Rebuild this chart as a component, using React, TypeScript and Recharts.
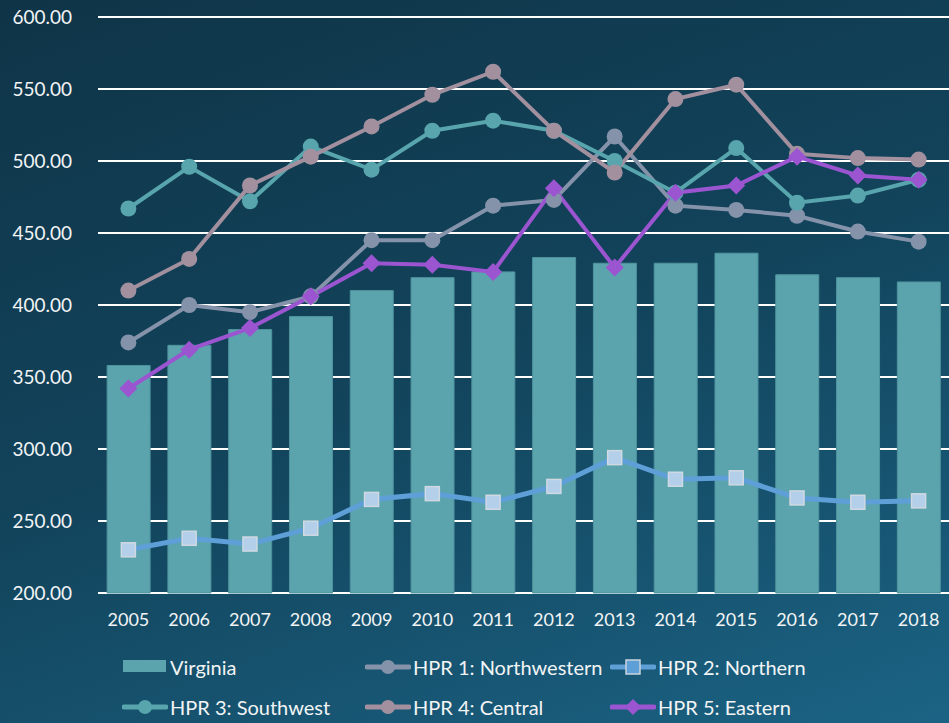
import { ComposedChart, Bar, Line, XAxis, YAxis, CartesianGrid } from "recharts";

const years = ["2005", "2006", "2007", "2008", "2009", "2010", "2011", "2012", "2013", "2014", "2015", "2016", "2017", "2018"];
const virginia = [358, 372, 383, 392, 410, 419, 423, 433, 429, 429, 436, 421, 419, 416];
const hpr1 = [374, 400, 395, 406, 445, 445, 469, 473, 517, 469, 466, 462, 451, 444];
const hpr2 = [230, 238, 234, 245, 265, 269, 263, 274, 294, 279, 280, 266, 263, 264];
const hpr3 = [467, 496, 472, 510, 494, 521, 528, 521, 500, 478, 509, 471, 476, 487];
const hpr4 = [410, 432, 483, 503, 524, 546, 562, 521, 492, 543, 553, 505, 502, 501];
const hpr5 = [342, 369, 384, 406, 429, 428, 423, 481, 426, 478, 483, 503, 490, 487];
const yTicks = [200, 250, 300, 350, 400, 450, 500, 550, 600];

const data = years.map((year, i) => ({
  year,
  virginia: virginia[i],
  hpr1: hpr1[i],
  hpr2: hpr2[i],
  hpr3: hpr3[i],
  hpr4: hpr4[i],
  hpr5: hpr5[i],
}));

const FONT = "Lato, 'Open Sans', sans-serif";
const TEXT = "#f2f4f5";

const C_BAR = "#5ba4ae";
const C1 = "#8593aa";
const C2 = "#5f9fd8";
const C3 = "#58a5ad";
const C4 = "#a2909f";
const C5 = "#9b55d0";

const Diamond = (props: any) => {
  const { cx, cy } = props;
  if (cx == null || cy == null) return null;
  const s = 9;
  return <path d={`M${cx},${cy - s}L${cx + s},${cy}L${cx},${cy + s}L${cx - s},${cy}Z`} fill={C5} />;
};

const Square = (props: any) => {
  const { cx, cy } = props;
  if (cx == null || cy == null) return null;
  return <rect x={cx - 7} y={cy - 7} width={14} height={14} fill="#b3cfea" stroke="#d0d9e2" strokeWidth={1.5} />;
};

const legendItems = [
  { label: "Virginia", kind: "bar", color: C_BAR },
  { label: "HPR 1: Northwestern", kind: "circle", color: C1 },
  { label: "HPR 2: Northern", kind: "square", color: C2 },
  { label: "HPR 3: Southwest", kind: "circle", color: C3 },
  { label: "HPR 4: Central", kind: "circle", color: C4 },
  { label: "HPR 5: Eastern", kind: "diamond", color: C5 },
];

function LegendIcon({ kind, color }: { kind: string; color: string }) {
  return (
    <svg width={46} height={20} style={{ marginRight: 2 }}>
      {kind === "bar" ? (
        <rect x={1} y={3} width={43} height={12} fill={color} />
      ) : (
        <>
          <line x1={2} y1={10} x2={44} y2={10} stroke={color} strokeWidth={5} strokeLinecap="round" />
          {kind === "circle" && <circle cx={23} cy={10} r={7} fill={color} />}
          {kind === "square" && <rect x={16} y={3} width={14} height={14} fill={C2} stroke="#c9d3dc" strokeWidth={1.5} />}
          {kind === "diamond" && <path d="M23,2L31,10L23,18L15,10Z" fill={color} />}
        </>
      )}
    </svg>
  );
}

export default function App() {
  return (
    <div
      style={{
        position: "absolute",
        left: 0,
        top: 0,
        width: 949,
        height: 723,
        overflow: "hidden",
        background: "linear-gradient(160deg, #0f3447 0%, #12445c 50%, #1b6384 100%)",
        fontFamily: FONT,
      }}
    >
      <ComposedChart width={949} height={723} data={data} margin={{ top: 17, right: 0, left: 0, bottom: 90 }} barCategoryGap="15%">
        <CartesianGrid vertical={false} stroke="#ffffff" strokeWidth={2} />
        <XAxis
          dataKey="year"
          axisLine={false}
          tickLine={false}
          tickSize={0}
          tickMargin={20}
          height={40}
          tick={{ fill: TEXT, fontSize: 18, fontFamily: FONT }}
        />
        <YAxis
          domain={[200, 600]}
          ticks={yTicks}
          axisLine={false}
          tickLine={false}
          tickSize={0}
          tickMargin={26}
          width={98}
          tickFormatter={(v: number) => v.toFixed(2)}
          tick={{ fill: TEXT, fontSize: 19, fontFamily: FONT }}
        />
        <Bar dataKey="virginia" fill={C_BAR} stroke="#4f939d" strokeWidth={1} isAnimationActive={false} />
        <Line dataKey="hpr1" stroke={C1} strokeWidth={4} dot={{ r: 8, fill: C1, stroke: "none" }} activeDot={false} isAnimationActive={false} />
        <Line dataKey="hpr2" stroke={C2} strokeWidth={5} dot={<Square />} activeDot={false} isAnimationActive={false} />
        <Line dataKey="hpr3" stroke={C3} strokeWidth={4} dot={{ r: 8, fill: C3, stroke: "none" }} activeDot={false} isAnimationActive={false} />
        <Line dataKey="hpr4" stroke={C4} strokeWidth={4} dot={{ r: 8, fill: C4, stroke: "none" }} activeDot={false} isAnimationActive={false} />
        <Line dataKey="hpr5" stroke={C5} strokeWidth={4} dot={<Diamond />} activeDot={false} isAnimationActive={false} />
      </ComposedChart>
      <div
        style={{
          position: "absolute",
          left: 122,
          top: 656,
          width: 780,
          display: "grid",
          gridTemplateColumns: "243px 245px 260px",
          rowGap: 18,
          color: TEXT,
          fontSize: 20,
        }}
      >
        {legendItems.map((it) => (
          <div key={it.label} style={{ display: "flex", alignItems: "center", whiteSpace: "nowrap", height: 22 }}>
            <LegendIcon kind={it.kind} color={it.color} />
            <span>{it.label}</span>
          </div>
        ))}
      </div>
    </div>
  );
}
